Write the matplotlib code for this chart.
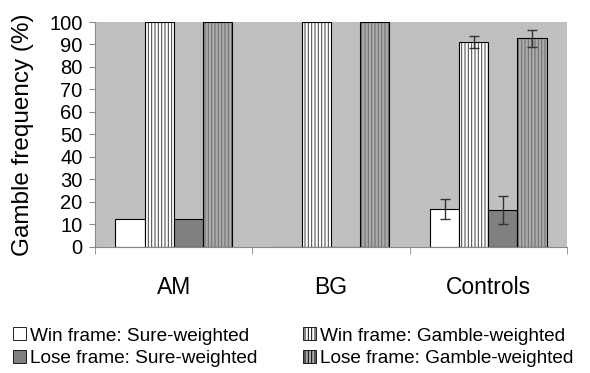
import matplotlib
matplotlib.use('Agg')
import matplotlib.pyplot as plt
import numpy as np
from matplotlib.patches import Patch

plt.rcParams['font.family'] = ['Liberation Sans', 'DejaVu Sans']
plt.rcParams['hatch.linewidth'] = 0.7

groups = ['AM', 'BG', 'Controls']
series = ['Win frame: Sure-weighted', 'Lose frame: Sure-weighted',
          'Win frame: Gamble-weighted', 'Lose frame: Gamble-weighted']
# bar order inside a group: win sure, win gamble, lose sure, lose gamble
win_sure = [12.5, 0, 17]
win_gamble = [100, 100, 91]
lose_sure = [12.5, 0, 16.5]
lose_gamble = [100, 100, 92.7]
win_sure_err = [None, None, 4.5]
win_gamble_err = [None, None, 2.6]
lose_sure_err = [None, None, 6.1]
lose_gamble_err = [None, None, 3.6]

fig = plt.figure(figsize=(5.90, 3.73), dpi=100)
ax = fig.add_axes([0.161, 0.338, 0.800, 0.603])
ax.set_facecolor('#c0c0c0')

x = np.arange(len(groups))
w = 0.185
# (values, errors, face colour, hatch, hatch colour)
styles = [
    (win_sure, win_sure_err, 'white', None, 'black'),
    (win_gamble, win_gamble_err, 'white', '|||||', '#404040'),
    (lose_sure, lose_sure_err, '#808080', None, 'black'),
    (lose_gamble, lose_gamble_err, '#ababab', '|||||', '#6a6a6a'),
]
for i, (vals, errs, fc, hatch, hc) in enumerate(styles):
    pos = x + (i - 1.5) * w
    if hatch:
        ax.bar(pos, vals, width=w, color=fc, edgecolor=hc, linewidth=0,
               hatch=hatch, zorder=2)
        ax.bar(pos, vals, width=w, fill=False, edgecolor='black',
               linewidth=0.8, zorder=2)
    else:
        ax.bar(pos, vals, width=w, color=fc, edgecolor='black',
               linewidth=0.8, zorder=2)
    for p, v, e in zip(pos, vals, errs):
        if e is not None:
            ax.errorbar(p, v, yerr=e, color='#333333', capsize=3.5,
                        elinewidth=1, capthick=1, zorder=3)

ax.set_xlim(-0.5, 2.5)
ax.set_ylim(0, 100)
ax.set_yticks(range(0, 101, 10))
ax.set_xticks(x)
ax.set_xticklabels(groups, fontsize=16.5)
ax.tick_params(axis='x', length=0, pad=21)
ax.set_xticks([-0.5, 0.5, 1.5, 2.5], minor=True)
ax.tick_params(axis='x', which='minor', length=5, color='#888888')
ax.tick_params(axis='y', labelsize=14.5, length=4, color='#888888', pad=5)
ax.set_ylabel('Gamble frequency (%)', fontsize=17.5)
ax.yaxis.set_label_coords(-0.13, 0.5)
for s in ['top', 'right']:
    ax.spines[s].set_visible(False)
for s in ['left', 'bottom']:
    ax.spines[s].set_color('#888888')

handles = [
    Patch(facecolor='white', edgecolor='black', linewidth=0.6, label=series[0]),
    Patch(facecolor='#808080', edgecolor='black', linewidth=0.6, label=series[1]),
    Patch(facecolor='white', edgecolor='black', linewidth=0.6, hatch='|||||', label=series[2]),
    Patch(facecolor='#ababab', edgecolor='black', linewidth=0.6, hatch='|||||', label=series[3]),
]
fig.legend(handles=handles, ncol=2, loc='lower left', bbox_to_anchor=(0.008, -0.008),
           frameon=False, fontsize=13.7, handlelength=0.68, handleheight=0.68,
           handletextpad=0.2, columnspacing=2.4, labelspacing=0.3,
           borderaxespad=0.05)

fig.savefig('out.png', dpi=100)
